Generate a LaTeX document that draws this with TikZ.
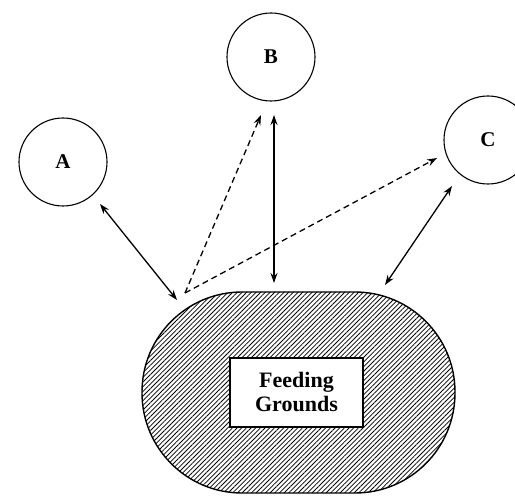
\documentclass[tikz,border=0pt]{standalone}
\usepackage{fontspec}
\setmainfont{Liberation Serif}
\usetikzlibrary{arrows.meta,patterns.meta}
\begin{document}
\begin{tikzpicture}[x=1pt,y=-1pt,
  place/.style={circle,draw,line width=1.1pt,minimum size=88pt,inner sep=0pt,font=\fontsize{21}{23}\selectfont\bfseries},
  link/.style={line width=1.3pt,{Stealth[length=10pt,width=7pt]}-{Stealth[length=10pt,width=7pt]}},
  maybe/.style={line width=1.3pt,dash pattern=on 6pt off 4pt,-{Stealth[length=10pt,width=7pt]}},
  ground/.style={draw,line width=1.4pt,rounded corners=100pt,pattern={Lines[angle=45,distance=3.3pt,line width=0.8pt]}},
  fgbox/.style={draw,line width=1.1pt,fill=white,minimum width=133pt,minimum height=69pt,align=center,
    font=\fontsize{22}{24}\selectfont\bfseries}]
\useasboundingbox (0,0) rectangle (515,497);
\clip (0,0) rectangle (515,497);
\node[place] (A) at (63,162) {A};
\node[place] (B) at (271,57) {B};
\node[place] (C) at (488,140) {C};
\draw[ground] (142,292) rectangle (455,493);
\node[fgbox] (F) at (296.5,392.5) {Feeding\\Grounds};
\coordinate (a1) at (100,204);
\coordinate (a2) at (177,300);
\coordinate (b1) at (274,115);
\coordinate (b2) at (274,283);
\coordinate (c1) at (452,186);
\coordinate (c2) at (385,285);
\coordinate (d0) at (185,293);
\coordinate (db) at (261,115);
\coordinate (dc) at (437,158);
\draw[link] (a1) -- (a2);
\draw[link] (b1) -- (b2);
\draw[link] (c1) -- (c2);
\draw[maybe] (d0) -- (db);
\draw[maybe] (d0) -- (dc);
\end{tikzpicture}
\end{document}
